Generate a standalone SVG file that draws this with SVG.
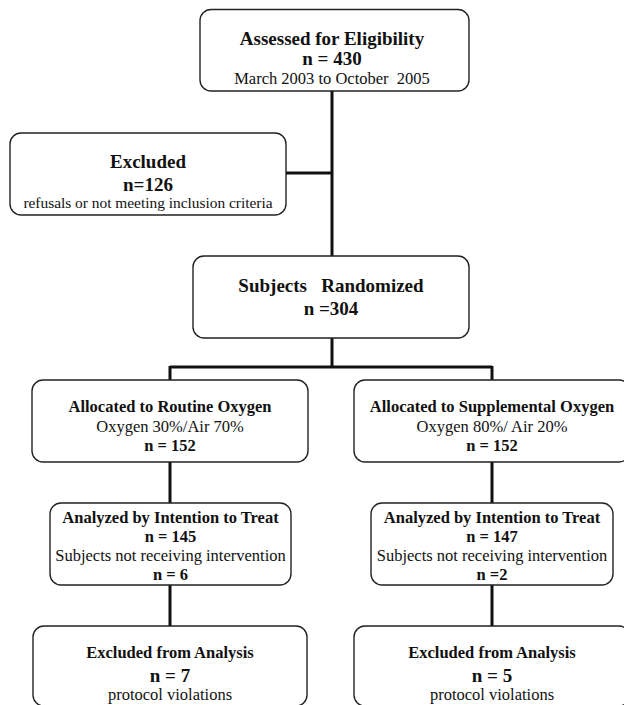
<svg xmlns="http://www.w3.org/2000/svg" width="624" height="705" viewBox="0 0 624 705">
<style>
.box{fill:#fff;stroke:#222;stroke-width:1.4}
.ln{fill:none;stroke:#111;stroke-width:3}
text{font-family:"Liberation Serif","Times New Roman",serif;fill:#111;text-anchor:middle}
.b19{font-size:19px;font-weight:bold}
.b16{font-size:16.5px;font-weight:bold}
.r16{font-size:16.5px}
.r15{font-size:15.4px}
</style>
<rect width="624" height="705" fill="#fff"/>
<g id="connectors">
<path class="ln" d="M332 91V256M286 173H332M332 338V367M170 367H492M170 366V380M492 366V380M170 462V503M492 462V503M170 585V626M492 585V626"/>
</g>
<g id="assessed">
<rect class="box" x="200" y="9.5" width="269" height="81.5" rx="11"/>
<text class="b19" x="332" y="45">Assessed for Eligibility</text>
<text class="b19" x="332" y="65">n = 430</text>
<text class="r16" x="332" y="84" xml:space="preserve">March 2003 to October  2005</text>
</g>
<g id="excluded">
<rect class="box" x="10" y="133" width="276" height="82" rx="11"/>
<text class="b19" x="148" y="168">Excluded</text>
<text class="b19" x="148" y="191">n=126</text>
<text class="r15" x="148" y="208">refusals or not meeting inclusion criteria</text>
</g>
<g id="randomized">
<rect class="box" x="193" y="256" width="276" height="82" rx="11"/>
<text class="b19" x="331" y="292" xml:space="preserve">Subjects   Randomized</text>
<text class="b19" x="331" y="315">n =304</text>
</g>
<g id="routine">
<rect class="box" x="32" y="380" width="276" height="82" rx="11"/>
<text class="b16" x="170" y="412">Allocated to Routine Oxygen</text>
<text class="r16" x="170" y="432">Oxygen 30%/Air 70%</text>
<text class="b16" x="170" y="451">n = 152</text>
</g>
<g id="supplemental">
<rect class="box" x="354" y="380" width="276" height="82" rx="11"/>
<text class="b16" x="492" y="412">Allocated to Supplemental Oxygen</text>
<text class="r16" x="492" y="432">Oxygen 80%/ Air 20%</text>
<text class="b16" x="492" y="451">n = 152</text>
</g>
<g id="itt-routine">
<rect class="box" x="50" y="503" width="241" height="82" rx="11"/>
<text class="b16" x="170.5" y="523">Analyzed by Intention to Treat</text>
<text class="b16" x="170.5" y="542">n = 145</text>
<text class="r16" x="170.5" y="561">Subjects not receiving intervention</text>
<text class="b16" x="170.5" y="580">n = 6</text>
</g>
<g id="itt-supplemental">
<rect class="box" x="371" y="503" width="242" height="82" rx="11"/>
<text class="b16" x="492" y="523">Analyzed by Intention to Treat</text>
<text class="b16" x="492" y="542">n = 147</text>
<text class="r16" x="492" y="561">Subjects not receiving intervention</text>
<text class="b16" x="492" y="580">n =2</text>
</g>
<g id="excl-routine">
<rect class="box" x="33" y="626" width="274" height="80" rx="11"/>
<text class="b16" x="170" y="658">Excluded from Analysis</text>
<text class="b19" x="170" y="682">n = 7</text>
<text class="r16" x="170" y="700">protocol violations</text>
</g>
<g id="excl-supplemental">
<rect class="box" x="354" y="626" width="276" height="80" rx="11"/>
<text class="b16" x="492" y="658">Excluded from Analysis</text>
<text class="b19" x="492" y="682">n = 5</text>
<text class="r16" x="492" y="700">protocol violations</text>
</g>
</svg>
